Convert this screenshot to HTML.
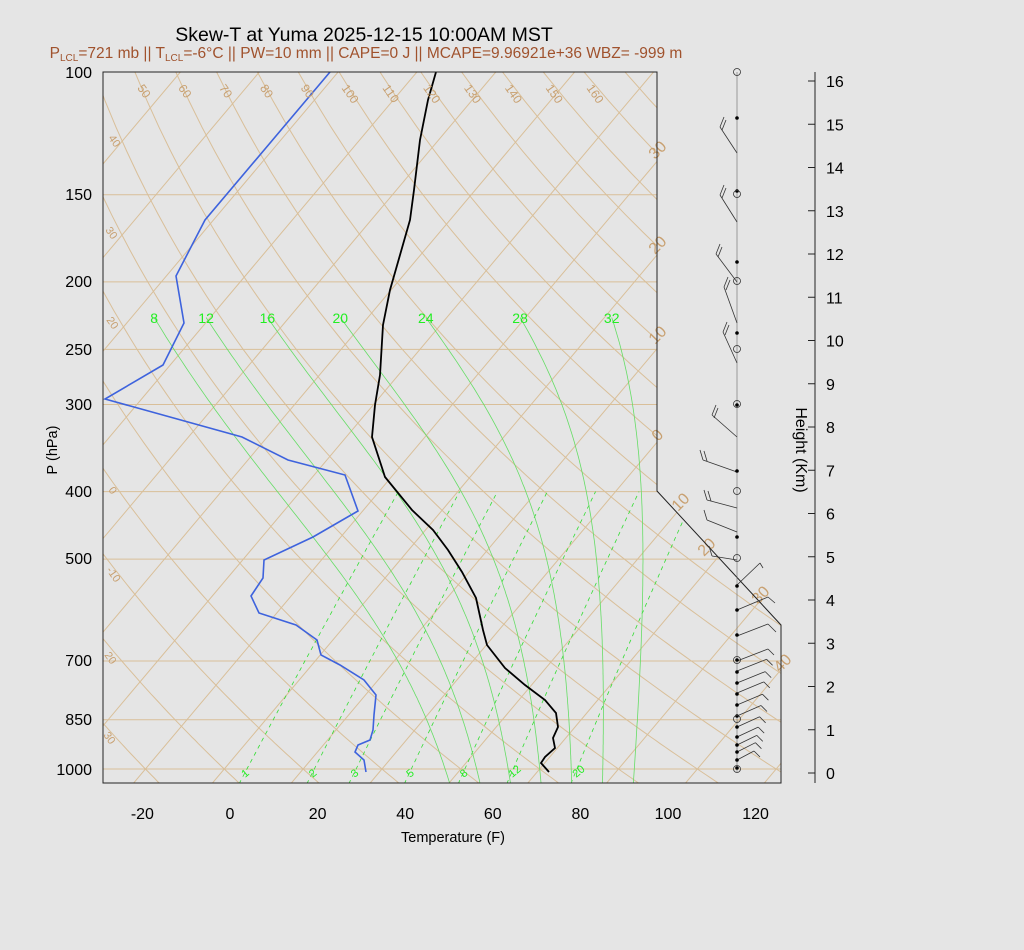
<!DOCTYPE html>
<html><head><meta charset="utf-8"><style>
html,body{margin:0;padding:0;background:#e5e5e5;}
svg{display:block;font-family:"Liberation Sans",sans-serif;}
</style></head><body>
<svg id="s" width="1024" height="950" xmlns="http://www.w3.org/2000/svg">
<defs><clipPath id="cp"><polygon points="103,72 657,72 657,491 781,625 781,783 103,783"/></clipPath></defs>
<rect width="1024" height="950" fill="#e5e5e5"/>
<g id="grid" clip-path="url(#cp)"></g>
<g id="over"></g>
</svg>
<script>
const NS="http://www.w3.org/2000/svg";
const grid=document.getElementById('grid'),over=document.getElementById('over');
function el(p,tag,a,txt){const e=document.createElementNS(NS,tag);for(const k in a)e.setAttribute(k,a[k]);if(txt!==undefined)e.textContent=txt;p.appendChild(e);return e;}
const Y=p=>72+302.7*Math.log(p/100);
const X=(tc,p)=>{const tf=tc*9/5+32;return 230+4.38*tf+0.842*(783-Y(p));};
function path(pts){return 'M'+pts.map(q=>q[0].toFixed(1)+','+q[1].toFixed(1)).join('L');}
const tan="#d9bf99",tanT="#c8a070";
[100,150,200,250,300,400,500,700,850,1000].forEach(p=>el(grid,'line',{x1:103,x2:781,y1:Y(p),y2:Y(p),stroke:tan,'stroke-width':1}));
for(let t=-120;t<=60;t+=10){const pts=[[X(t,1050),Y(1050)],[X(t,100),Y(100)]];el(grid,'path',{d:path(pts),stroke:tan,fill:'none','stroke-width':1});}
for(let th=-40;th<=200;th+=10){const pts=[];for(let p=1050;p>=99;p-=10){const T=(th+273.15)*Math.pow(p/1000,0.2857)-273.15;pts.push([X(T,p),Y(p)]);}el(grid,'path',{d:path(pts),stroke:tan,fill:'none','stroke-width':1});}
const eps=0.622;
[1,2,3,5,8,12,20].forEach(w=>{const pts=[];for(let p=1050;p>=400;p-=10){const ww=w/1000;const e=ww*p/(eps+ww);const l=Math.log(e/6.112);const T=243.5*l/(17.67-l);pts.push([X(T,p),Y(p)]);}el(grid,'path',{d:path(pts),stroke:'#33dd33',fill:'none','stroke-width':0.8,'stroke-dasharray':'4,4'});
const b=pts[2];el(over,'text',{x:b[0]+3,y:778,fill:'#22ee22','font-size':11,transform:`rotate(-40 ${b[0]+3} 778)`},w);});
function lapse(T,p){const Tc=T-273.15;const es=6.112*Math.exp(17.67*Tc/(Tc+243.5));const rs=eps*es/(p-es);const Rd=287,Lv=2.5e6,cp=1005;return (Rd*T+Lv*rs)/(p*(cp+Lv*Lv*rs*eps/(Rd*T*T)));}
function moist(t0){let T=t0+273.15;for(let pb=1000;pb<1050;pb+=5){T+=5*lapse(T,pb);}const pts=[];for(let p=1050;p>=225;p-=5){pts.push([X(T-273.15,p),Y(p)]);T-=5*lapse(T,p);}return pts;}
[8,12,16,20,24,28,32].forEach(t=>{const pts=moist(t);el(grid,'path',{d:path(pts),stroke:'#66dd66',fill:'none','stroke-width':0.8});const e=pts[pts.length-1];el(over,'text',{x:e[0],y:323,fill:'#22ee22','font-size':14,'text-anchor':'middle'},t);});
[50,60,70,80,90,100,110,120,130,140,150,160].forEach(th=>{const T=(th+273.15)*Math.pow(0.1,0.2857)-273.15;const x=X(T,100);if(x<110||x>650)return;el(over,'text',{x:x+2,y:88,fill:tanT,'font-size':12,transform:`rotate(55 ${x+2} 88)`},th);});
[[108,138,40],[105,230,30],[106,320,20],[108,490,0],[106,570,-10],[104,655,20],[103,735,30]].forEach(a=>el(over,'text',{x:a[0],y:a[1],fill:tanT,'font-size':11,transform:`rotate(55 ${a[0]} ${a[1]})`},a[2]));
[[655,160,30],[655,255,20],[655,345,10],[658,442,0],[678,512,10],[704,557,20],[758,605,30],[780,673,40]].forEach(a=>el(over,'text',{x:a[0],y:a[1],fill:tanT,'font-size':16,transform:`rotate(-45 ${a[0]} ${a[1]})`},a[2]));
const Tp=[[549,772],[541,763],[545,757],[555,748],[553,738],[558,727],[556,713],[545,700],[525,685],[505,668],[487,645],[483,630],[476,598],[462,572],[448,550],[433,530],[412,510],[385,477],[372,437],[375,405],[380,375],[383,325],[390,290],[400,255],[410,220],[414,190],[420,140],[428,100],[436,72]];
const Dp=[[366,772],[364,760],[355,752],[358,745],[370,740],[373,730],[374,715],[376,695],[364,680],[340,665],[321,655],[317,640],[296,625],[259,613],[251,596],[263,578],[264,560],[313,537],[358,511],[345,475],[288,460],[242,437],[105,399],[163,365],[184,323],[176,276],[205,220],[330,72]];
el(grid,'path',{d:path(Dp),stroke:'#3e63dd',fill:'none','stroke-width':1.6});
el(grid,'path',{d:path(Tp),stroke:'#000',fill:'none','stroke-width':1.8});
el(over,'polygon',{points:"103,72 657,72 657,491 781,625 781,783 103,783",fill:'none',stroke:'#222','stroke-width':1});
[[100,72],[150,194],[200,281],[250,349],[300,404],[400,491],[500,558],[700,660],[850,719],[1000,769]].forEach(a=>el(over,'text',{x:92,y:a[1]+6,'font-size':16,'text-anchor':'end'},a[0]));
[-20,0,20,40,60,80,100,120].forEach(t=>{const x=230+4.38*t;el(over,'text',{x:x,y:819,'font-size':16,'text-anchor':'middle'},t);});
el(over,'text',{x:453,y:842,'font-size':14.5,'text-anchor':'middle'},'Temperature (F)');
el(over,'text',{x:57,y:450,'font-size':14.5,'text-anchor':'middle',transform:'rotate(-90 57 450)'},'P (hPa)');
el(over,'text',{x:364,y:41,'font-size':19.5,'text-anchor':'middle'},'Skew-T at Yuma 2025-12-15 10:00AM MST');
const sub=el(over,'text',{x:366,y:58,'font-size':15.5,'text-anchor':'middle',fill:'#a0522d'});
sub.innerHTML='P<tspan font-size="10" dy="3">LCL</tspan><tspan dy="-3">=721 mb || T</tspan><tspan font-size="10" dy="3">LCL</tspan><tspan dy="-3">=-6°C || PW=10 mm || CAPE=0 J || MCAPE=9.96921e+36 WBZ= -999 m</tspan>';
el(over,'line',{x1:815,x2:815,y1:72,y2:783,stroke:'#222'});
for(let k=0;k<=16;k++){const y=773-43.25*k;el(over,'line',{x1:808,x2:815,y1:y,y2:y,stroke:'#222'});el(over,'text',{x:826,y:y+6,'font-size':16},k);}
el(over,'text',{x:796,y:450,'font-size':16,'text-anchor':'middle',transform:'rotate(90 796 450)'},'Height (Km)');
el(over,'line',{x1:737,x2:737,y1:72,y2:772,stroke:'#666','stroke-width':0.6});
const L=(x1,y1,x2,y2)=>el(over,'line',{x1,y1,x2,y2,stroke:'#333','stroke-width':0.8});
[[153,720,127],[222,720,195],[282,716,254],[323,724,287],[363,723,332],[437,712,415]].forEach(b=>{const [y,tx,ty]=b;L(737,y,tx,ty);L(tx,ty,tx+4,ty-10);L(tx+2,ty+3,tx+6,ty-7);});
[[472,703,460],[508,707,500],[532,707,520],[560,712,556]].forEach(b=>{const [y,tx,ty]=b;L(737,y,tx,ty);L(tx,ty,tx-3,ty-10);if(y<520)L(tx+4,ty+1,tx+1,ty-9);});
L(737,585,760,563);L(760,563,763,568);
L(737,610,768,597);L(768,597,775,603);
L(737,636,768,624);L(768,624,776,632);
[661,671,683,693,705,716,727,737,745,752,760].forEach((y,i)=>{const len=31-i*1.4;const tx=737+len,ty=y-12+i*0.3;L(737,y,tx,ty);L(tx,ty,tx+6,ty+6);});
const dots=[118,191,262,333,405,471,537,586,610,635,660,672,683,694,705,716,727,737,745,752,760,768];
dots.forEach(y=>el(over,'circle',{cx:737,cy:y,r:1.8,fill:'#000'}));
[72,194,281,349,404,491,558,660,719,769].forEach(y=>el(over,'circle',{cx:737,cy:y,r:3.5,fill:'none',stroke:'#333','stroke-width':0.8}));
</script>
</body></html>
